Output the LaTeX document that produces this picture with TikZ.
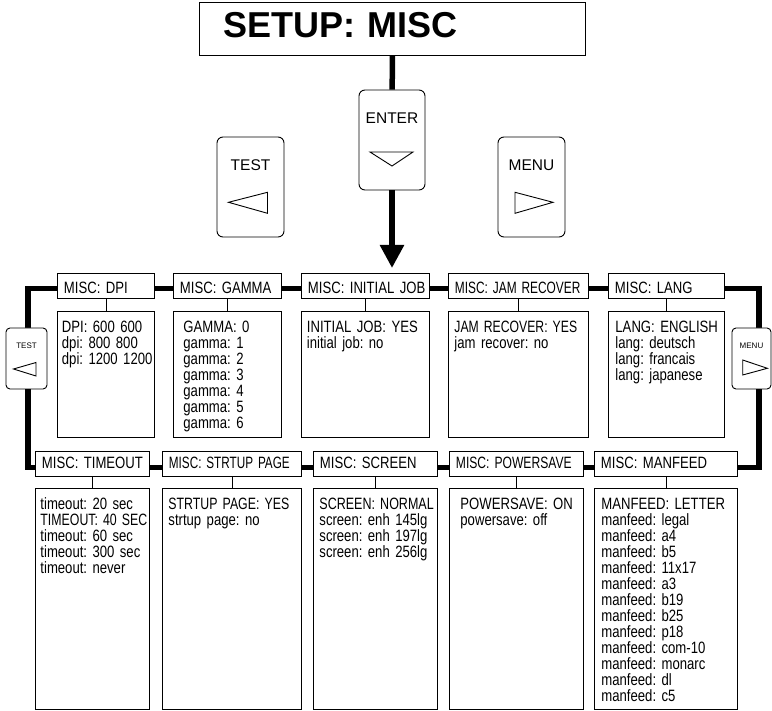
\documentclass[tikz,border=0pt]{standalone}
\usepackage{fontspec}
\setmainfont{Liberation Sans}
\newfontfamily\narrowfont{Liberation Sans}[FakeStretch=0.80]
\usepackage{graphicx}
\usetikzlibrary{arrows.meta,positioning}
\newcommand{\squash}[2]{\scalebox{#1}[1]{#2}}
\frenchspacing
\hyphenpenalty=10000
\hfuzz=20pt

\begin{document}
\begin{tikzpicture}[x=1pt,y=-1pt,
	title/.style={draw,line width=0.9pt,anchor=north west,inner xsep=24pt,inner ysep=0pt,minimum height=53pt,text width=338pt,align=left,text height=17pt,text depth=0pt,font=\bfseries\fontsize{36}{36}\selectfont},
	hdr/.style={draw,line width=0.9pt,anchor=north west,inner xsep=6.5pt,inner ysep=0pt,minimum height=25pt,text width=#1,align=left,text height=9.8pt,text depth=0pt,font=\narrowfont\fontsize{16.4}{16}\selectfont},
	hdrtop/.style={hdr=#1,text height=15.8pt},
	box/.style={draw,line width=0.9pt,text width=#1,align=left,inner ysep=10pt,text height=11.5pt,font=\narrowfont\fontsize{16.4}{16}\selectfont},
	key/.style={draw,line width=0.9pt,fill=white,rounded corners=6pt,inner sep=0pt,minimum width=66pt,minimum height=100pt,text height=11pt,text depth=43pt,font=\fontsize{15.5}{15.5}\selectfont},
	minikey/.style={key,rounded corners=4pt,minimum height=61pt,text height=6pt,text depth=25pt,font=\fontsize{8}{8}\selectfont},
	bus/.style={line width=5.5pt},
	link/.style={line width=0.9pt},
	tri/.style={line width=0.9pt}]
\useasboundingbox (0,0) rectangle (772,711);

% title and keys
\node (setup)[title] at (199,2) {SETUP: MISC};
\node (enterkey)[key] at (392,140) {ENTER};
\node (testkey)[key,minimum width=67pt] at (250.5,187) {TEST};
\node (menukey)[key,minimum width=67pt] at (531.5,187) {MENU};

% first row
\node (hdpi)[hdrtop=84pt] at (57,273) {MISC:~DPI};
\node (hgamma)[hdrtop=95pt] at (173,273) {MISC:~GAMMA};
\node (hinit)[hdrtop=115pt] at (301,273) {MISC:~INITIAL~JOB};
\node (hjam)[hdrtop=127pt] at (448,273) {\squash{0.906}{MISC: JAM RECOVER}};
\node (hlang)[hdrtop=103pt] at (608,273) {MISC:~LANG};

\node (cdpi)[box=88pt,inner xsep=4.5pt,text depth=94.5pt,below=12pt of hdpi]
	{DPI:~600~600\\dpi:~800~800\\dpi:~1200~1200};
\node (cgamma)[box=88pt,inner xsep=10pt,text depth=94.5pt,below=12pt of hgamma]
	{GAMMA: 0\\gamma: 1\\gamma: 2\\gamma: 3\\gamma: 4\\gamma: 5\\gamma: 6};
\node (cinit)[box=117pt,inner xsep=5.5pt,text depth=94.5pt,below=12pt of hinit]
	{INITIAL~JOB:~YES\\initial job: no};
\node (cjam)[box=128pt,inner xsep=6pt,text depth=94.5pt,below=12pt of hjam]
	{\squash{0.93}{JAM RECOVER: YES}\\jam recover: no};
\node (clang)[box=102pt,inner xsep=7pt,text depth=94.5pt,below=12pt of hlang]
	{LANG:~ENGLISH\\lang: deutsch\\lang: francais\\lang: japanese};

% second row
\node (htime)[hdr=101pt] at (35,451) {MISC:~TIMEOUT};
\node (hstart)[hdr=126pt] at (162,451) {\squash{0.894}{MISC: STRTUP PAGE}};
\node (hscreen)[hdr=111pt] at (313,451) {MISC:~SCREEN};
\node (hpower)[hdr=121pt] at (449,451) {\squash{0.922}{MISC: POWERSAVE}};
\node (hmanfeed)[hdr=130pt] at (594,451) {MISC:~MANFEED};

\node (ctime)[box=104pt,inner xsep=5pt,text depth=189.5pt,below=11pt of htime]
	{timeout:~20~sec\\\squash{0.94}{TIMEOUT: 40 SEC}\\timeout:~60~sec\\timeout:~300~sec\\timeout:~never};
\node (cstart)[box=127pt,inner xsep=6pt,text depth=189.5pt,below=11pt of hstart]
	{\squash{0.94}{STRTUP PAGE: YES}\\strtup page: no};
\node (cscreen)[box=112pt,inner xsep=6pt,text depth=189.5pt,below=11pt of hscreen]
	{\squash{0.953}{SCREEN: NORMAL}\\screen:~enh~145lg\\screen:~enh~197lg\\screen:~enh~256lg};
\node (cpower)[box=112pt,inner xsep=11pt,text depth=189.5pt,below=11pt of hpower]
	{POWERSAVE:~ON\\powersave: off};
\node (cmanfeed)[box=129pt,inner xsep=7pt,text depth=189.5pt,below=11pt of hmanfeed]
	{MANFEED:~LETTER\\manfeed: legal\\manfeed: a4\\manfeed: b5\\manfeed: 11x17\\manfeed: a3\\manfeed: b19\\manfeed: b25\\manfeed: p18\\manfeed: com-10\\manfeed: monarc\\manfeed: dl\\manfeed: c5};

% connectors
\foreach \n in {dpi,gamma,init,jam,lang,time,start,screen,power,manfeed}
	\draw[link] (h\n) -- (c\n);
\foreach \a/\b in {dpi/gamma,gamma/init,init/jam,jam/lang}
	\draw[bus] ([yshift=-2.5pt]h\a.east) -- ([yshift=-2.5pt]h\b.west);
\foreach \a/\b in {time/start,start/screen,screen/power,power/manfeed}
	\draw[bus] ([yshift=-3.5pt]h\a.east) -- ([yshift=-3.5pt]h\b.west);

\coordinate (lrail) at (28,380);
\coordinate (rrail) at (759,380);
\draw[bus] ([yshift=-2.5pt]hdpi.west) -| (lrail) |- ([yshift=-3.5pt]htime.west);
\draw[bus] ([yshift=-2.5pt]hlang.east) -| (rrail) |- ([yshift=-3.5pt]hmanfeed.east);

\draw[bus] (setup) -- (enterkey);
\draw[bus,-{Triangle[length=23pt,width=23pt]},shorten >=5pt] (enterkey) -- (enterkey |- hinit.north);

% side keys on the loop
\node (testside)[minikey,minimum width=41pt] at (26.5,358.5) {TEST};
\node (menuside)[minikey,minimum width=39pt] at (751.5,358.5) {MENU};

% key triangles
\draw[tri] ([shift={(-22,12)}]enterkey.center) -- ([shift={(21,12)}]enterkey.center) -- ([shift={(0,26)}]enterkey.center) -- cycle;
\draw[tri] ([shift={(-22,15.3)}]testkey.center) -- ([shift={(17,5.3)}]testkey.center) -- ([shift={(17,26.3)}]testkey.center) -- cycle;
\draw[tri] ([shift={(21.5,15.3)}]menukey.center) -- ([shift={(-16.5,5.3)}]menukey.center) -- ([shift={(-16.5,26.3)}]menukey.center) -- cycle;
\draw[tri] ([shift={(-13,10.5)}]testside.center) -- ([shift={(9.5,4)}]testside.center) -- ([shift={(9.5,17.5)}]testside.center) -- cycle;
\draw[tri] ([shift={(15.8,9.8)}]menuside.center) -- ([shift={(-8.8,1.5)}]menuside.center) -- ([shift={(-8.8,16.5)}]menuside.center) -- cycle;
\end{tikzpicture}
\end{document}
